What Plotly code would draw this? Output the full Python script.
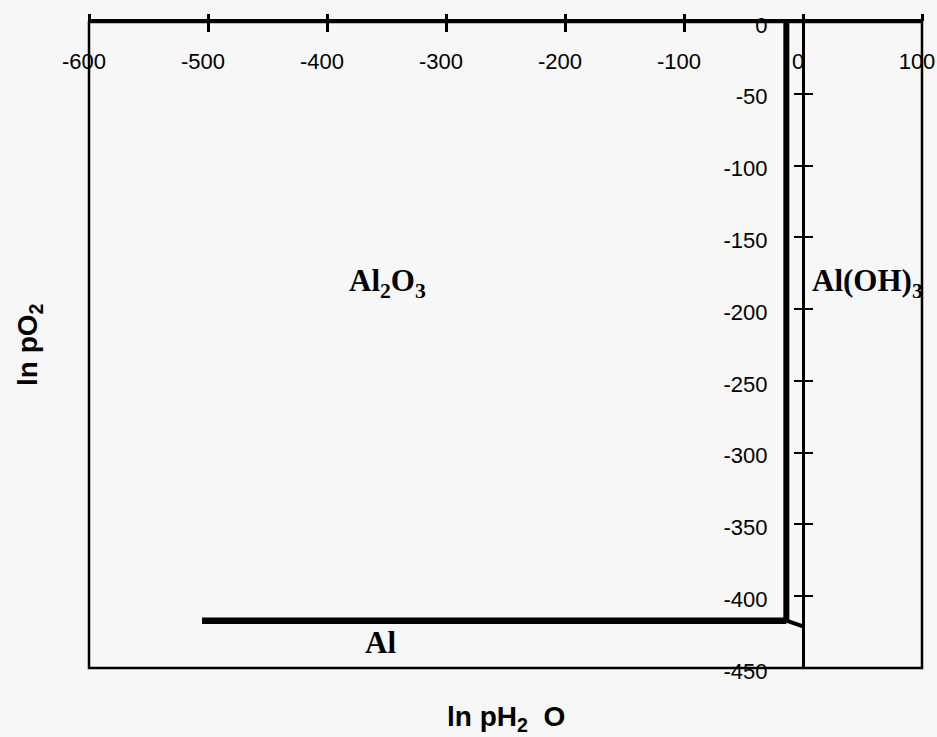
import plotly.graph_objects as go

# Phase boundaries (ln pH2O, ln pO2)
al2o3_al_x = [-505, -14]
al2o3_al_y = [-417, -417]
al2o3_aloh3_x = [-14, -14]
al2o3_aloh3_y = [0, -417]
al_aloh3_x = [-14, 0]
al_aloh3_y = [-417, -421]

# Region labels
region_names = ["Al<sub>2</sub>O<sub>3</sub>", "Al(OH)<sub>3</sub>", "Al"]
region_x = [-349, 6, -355]
region_y = [-182, -182, -432]
region_anchor = ["center", "left", "center"]

x_range = [-600, 100]
y_range = [-450, 0]
x_ticks = [-600, -500, -400, -300, -200, -100, 0, 100]
x_ticktext = ["-600", "-500", "-400", "-300", "-200", "-100", "0", "100"]
y_ticks = [0, -50, -100, -150, -200, -250, -300, -350, -400, -450]
y_ticktext = ["0", "-50", "-100", "-150", "-200", "-250", "-300", "-350", "-400", "-450"]

BG = "#f7f7f7"
W, H = 937, 737
TICKFONT = dict(family="Liberation Sans, Arial, sans-serif", size=22, color="black")

fig = go.Figure()
for xs, ys, w in [(al2o3_al_x, al2o3_al_y, 6.5),
                  (al2o3_aloh3_x, al2o3_aloh3_y, 6),
                  (al_aloh3_x, al_aloh3_y, 4)]:
    fig.add_trace(go.Scatter(x=xs, y=ys, mode="lines",
                             line=dict(color="black", width=w),
                             showlegend=False, hoverinfo="skip"))

# dummy trace for the overlay axes (crossing ticks)
fig.add_trace(go.Scatter(x=[None], y=[None], xaxis="x2", yaxis="y2",
                         showlegend=False, hoverinfo="skip"))

yaxis_pos = (0 - x_range[0]) / (x_range[1] - x_range[0])

fig.update_layout(
    width=W, height=H, autosize=False,
    margin=dict(l=89, r=15, t=22, b=69, autoexpand=False),
    paper_bgcolor=BG, plot_bgcolor=BG,
    xaxis=dict(range=x_range, side="top", tickvals=x_ticks, ticktext=x_ticktext,
               ticks="inside", ticklen=10, tickwidth=2.5, tickcolor="black",
               ticklabelposition="inside", ticklabeloverflow="allow",
               ticklabelstandoff=23, ticklabelshift=-5, automargin=False,
               showline=True, linewidth=3, linecolor="black",
               showgrid=False, zeroline=False, tickfont=TICKFONT),
    xaxis2=dict(range=x_range, overlaying="x", side="top", anchor="y2",
                tickvals=x_ticks, ticks="outside", ticklen=7, tickwidth=2.5,
                tickcolor="black", showticklabels=False, showline=False,
                showgrid=False, zeroline=False, automargin=False),
    yaxis=dict(range=y_range, anchor="free", position=yaxis_pos, side="left",
               tickvals=y_ticks, ticktext=y_ticktext,
               ticks="outside", ticklen=8, tickwidth=2,
               tickcolor="black", ticklabelstandoff=22, ticklabelshift=3,
               automargin=False,
               showline=True, linewidth=3, linecolor="black",
               showgrid=False, zeroline=False, tickfont=TICKFONT),
    yaxis2=dict(range=y_range, overlaying="y", anchor="free", position=yaxis_pos,
                side="left", tickvals=y_ticks, ticks="inside", ticklen=9,
                tickwidth=2, tickcolor="black", showticklabels=False,
                showline=False, showgrid=False, zeroline=False, automargin=False),
)

# frame
fig.add_shape(type="rect", xref="paper", yref="paper", x0=0, x1=1, y0=0, y1=1,
              line=dict(color="black", width=2.5), layer="above")

for name, xv, yv, anc in zip(region_names, region_x, region_y, region_anchor):
    fig.add_annotation(x=xv, y=yv, xref="x", yref="y", text=name, showarrow=False,
                       xanchor=anc, yanchor="middle",
                       font=dict(family="Liberation Serif, Times New Roman, serif",
                                 size=31, color="black", weight="bold"))

TITLEFONT = dict(family="Liberation Sans, Arial, sans-serif", size=28,
                 color="black", weight="bold")
fig.add_annotation(x=0.5, y=-0.078, xref="paper", yref="paper",
                   text="ln&nbsp;pH<sub>2</sub>&nbsp;&nbsp;O", showarrow=False,
                   xanchor="center", yanchor="middle", font=TITLEFONT)
fig.add_annotation(x=-0.072, y=0.5, xref="paper", yref="paper",
                   text="ln&nbsp;pO<sub>2</sub>", showarrow=False, textangle=-90,
                   xanchor="center", yanchor="middle", font=TITLEFONT)

post = (
    "document.body.style.margin='0';"
    "document.body.style.background='" + BG + "';"
    "document.documentElement.style.overflow='hidden';"
    "var gd=document.getElementById('{plot_id}');"
    "gd.style.width='" + str(W) + "px';gd.style.height='" + str(H) + "px';"
    "Plotly.relayout(gd,{width:" + str(W) + ",height:" + str(H) + "});"
)

fig.write_html(
    "out.html",
    config={"displayModeBar": False, "responsive": False},
    default_width=f"{W}px", default_height=f"{H}px",
    post_script=post,
)
